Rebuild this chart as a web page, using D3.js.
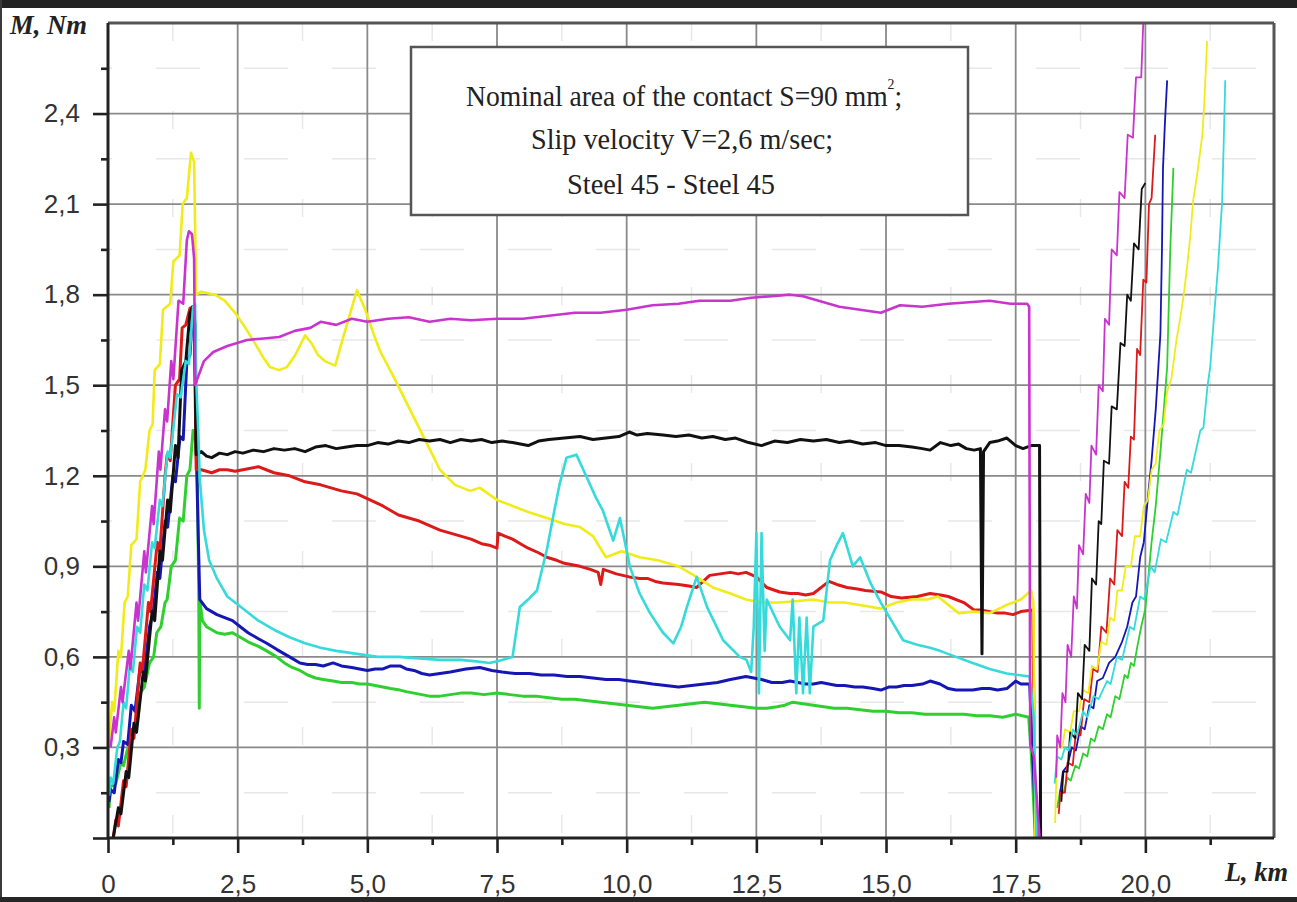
<!DOCTYPE html>
<html>
<head>
<meta charset="utf-8">
<script src="https://cdn.jsdelivr.net/npm/d3@7"></script>
<style>
body { margin: 0; background: #fff; }
svg { display: block; }
</style>
</head>
<body>
<div id="chart"></div>
<script>
// tick values (km and Nm)
var xMajor = [0, 2.5, 5, 7.5, 10, 12.5, 15, 17.5, 20];
var xMinor = [1.25, 3.75, 6.25, 8.75, 11.25, 13.75, 16.25, 18.75, 21.25];
var yMajor = [0, 0.3, 0.6, 0.9, 1.2, 1.5, 1.8, 2.1, 2.4];
var yMinor = [0.15, 0.45, 0.75, 1.05, 1.35, 1.65, 1.95, 2.25, 2.55];

var boxLines = ["Nominal area of the contact S=90 mm", "Slip velocity V=2,6 m/sec;", "Steel 45 - Steel 45"];

// each curve: [L km, M Nm]
// "run" = loading + steady part up to the stop, "rise" = second loading after 18 km
var magentaRun = [[0.05,0.30],[0.12,0.40],[0.15,0.35],[0.25,0.50],[0.28,0.45],[0.4,0.62],[0.43,0.56],[0.55,0.78],[0.58,0.72],[0.7,0.95],[0.73,0.88],[0.85,1.10],[0.88,1.04],[0.98,1.28],[1.01,1.22],[1.1,1.42],[1.14,1.38],[1.22,1.58],[1.26,1.52],[1.36,1.78],[1.45,1.77],[1.52,1.98],[1.56,2.01],[1.62,2.0],[1.66,1.92],[1.68,1.50],[1.72,1.52],[1.85,1.58],[2.03,1.61],[2.3,1.63],[2.68,1.65],[3.0,1.655],[3.3,1.66],[3.6,1.68],[3.9,1.69],[4.1,1.71],[4.4,1.70],[4.7,1.72],[5.0,1.71],[5.4,1.72],[5.8,1.725],[6.2,1.71],[6.6,1.72],[7.0,1.715],[7.5,1.72],[8.0,1.72],[8.5,1.73],[9.0,1.74],[9.5,1.74],[10.0,1.75],[10.5,1.765],[11.0,1.77],[11.4,1.78],[12.0,1.78],[12.4,1.79],[12.8,1.795],[13.15,1.80],[13.4,1.795],[13.7,1.78],[14.1,1.76],[14.5,1.75],[14.9,1.74],[15.27,1.765],[15.7,1.76],[16.2,1.77],[16.6,1.775],[17.0,1.78],[17.4,1.77],[17.72,1.77],[17.76,1.76],[17.78,0.31],[17.85,0.27],[17.92,0.10],[17.96,0.0]];
var magentaRise = [[18.28,0.20],[18.3,0.34],[18.36,0.30],[18.4,0.48],[18.46,0.45],[18.5,0.64],[18.57,0.60],[18.62,0.80],[18.68,0.76],[18.72,0.97],[18.8,0.94],[18.85,1.14],[18.92,1.11],[18.96,1.30],[19.05,1.27],[19.1,1.50],[19.18,1.48],[19.22,1.72],[19.3,1.70],[19.35,1.95],[19.45,1.93],[19.5,2.14],[19.6,2.12],[19.66,2.33],[19.76,2.32],[19.82,2.52],[19.92,2.52],[19.97,2.75]];

var yellowRun = [[0.0,0.28],[0.08,0.45],[0.12,0.42],[0.2,0.62],[0.25,0.60],[0.32,0.78],[0.38,0.80],[0.45,0.97],[0.55,0.99],[0.62,1.18],[0.72,1.22],[0.8,1.35],[0.86,1.37],[0.9,1.55],[1.0,1.57],[1.06,1.75],[1.2,1.77],[1.26,1.91],[1.38,1.93],[1.44,2.10],[1.52,2.12],[1.6,2.27],[1.66,2.24],[1.7,1.80],[1.8,1.81],[2.06,1.80],[2.25,1.78],[2.45,1.74],[2.65,1.69],[2.83,1.64],[3.0,1.59],[3.12,1.56],[3.3,1.55],[3.45,1.56],[3.61,1.60],[3.8,1.665],[3.92,1.64],[4.05,1.60],[4.18,1.58],[4.38,1.565],[4.57,1.68],[4.8,1.815],[4.96,1.75],[5.1,1.68],[5.24,1.615],[5.53,1.52],[5.82,1.42],[6.11,1.32],[6.4,1.22],[6.69,1.17],[6.98,1.15],[7.17,1.16],[7.5,1.12],[7.8,1.10],[8.1,1.08],[8.46,1.06],[8.8,1.04],[9.1,1.03],[9.35,1.0],[9.6,0.93],[9.9,0.95],[10.25,0.93],[10.6,0.92],[11.0,0.90],[11.3,0.87],[11.66,0.83],[12.0,0.81],[12.3,0.79],[12.6,0.78],[12.95,0.78],[13.3,0.785],[13.6,0.79],[13.9,0.78],[14.2,0.78],[14.55,0.77],[14.9,0.76],[15.2,0.78],[15.5,0.79],[15.8,0.79],[16.0,0.80],[16.4,0.745],[16.7,0.75],[17.0,0.745],[17.3,0.77],[17.6,0.79],[17.8,0.82],[17.84,0.78],[17.88,0.0]];
var yellowRise = [[18.26,0.05],[18.3,0.30],[18.4,0.30],[18.45,0.36],[18.55,0.35],[18.62,0.42],[18.72,0.42],[18.8,0.49],[18.9,0.48],[18.97,0.57],[19.07,0.56],[19.15,0.65],[19.25,0.64],[19.32,0.73],[19.4,0.72],[19.46,0.82],[19.55,0.82],[19.62,0.90],[19.72,0.90],[19.8,1.0],[19.9,1.0],[19.97,1.10],[20.05,1.12],[20.12,1.22],[20.2,1.24],[20.27,1.35],[20.35,1.37],[20.42,1.48],[20.5,1.52],[20.6,1.65],[20.67,1.72],[20.74,1.80],[20.81,1.90],[20.87,2.0],[20.92,2.11],[21.0,2.2],[21.1,2.33],[21.14,2.45],[21.19,2.64]];

var blackRun = [[0.1,0.0],[0.2,0.10],[0.25,0.08],[0.35,0.22],[0.4,0.20],[0.5,0.38],[0.55,0.35],[0.68,0.55],[0.72,0.52],[0.85,0.75],[0.9,0.72],[1.0,0.95],[1.05,0.92],[1.15,1.12],[1.2,1.08],[1.3,1.30],[1.35,1.26],[1.42,1.55],[1.5,1.58],[1.58,1.74],[1.63,1.76],[1.67,1.70],[1.7,1.27],[1.8,1.28],[1.9,1.265],[2.0,1.26],[2.15,1.275],[2.3,1.27],[2.45,1.28],[2.6,1.275],[2.8,1.285],[3.0,1.28],[3.2,1.29],[3.4,1.285],[3.6,1.29],[3.8,1.28],[4.0,1.295],[4.2,1.30],[4.4,1.29],[4.6,1.295],[4.8,1.30],[5.0,1.30],[5.2,1.31],[5.4,1.305],[5.6,1.315],[5.8,1.31],[6.0,1.32],[6.2,1.315],[6.4,1.32],[6.6,1.31],[6.8,1.32],[7.0,1.315],[7.2,1.32],[7.4,1.31],[7.6,1.315],[7.8,1.31],[8.1,1.30],[8.3,1.315],[8.5,1.32],[8.8,1.325],[9.1,1.33],[9.35,1.32],[9.6,1.325],[9.85,1.33],[10.05,1.345],[10.2,1.335],[10.4,1.34],[10.7,1.335],[10.95,1.33],[11.2,1.335],[11.45,1.325],[11.66,1.33],[11.9,1.32],[12.1,1.325],[12.35,1.31],[12.6,1.30],[12.85,1.315],[13.1,1.31],[13.35,1.32],[13.6,1.315],[13.85,1.32],[14.1,1.31],[14.3,1.315],[14.55,1.305],[14.8,1.31],[15.0,1.30],[15.25,1.30],[15.5,1.295],[15.7,1.29],[15.85,1.285],[16.05,1.31],[16.25,1.30],[16.4,1.305],[16.55,1.29],[16.7,1.285],[16.82,1.29],[16.85,0.61],[16.88,1.28],[17.0,1.31],[17.15,1.315],[17.33,1.325],[17.5,1.30],[17.64,1.29],[17.8,1.30],[17.96,1.30],[17.98,0.0]];
var blackRise = [[18.38,0.12],[18.42,0.22],[18.5,0.22],[18.55,0.35],[18.65,0.33],[18.7,0.48],[18.78,0.46],[18.83,0.64],[18.92,0.62],[18.97,0.86],[19.05,0.84],[19.1,1.05],[19.15,1.04],[19.2,1.25],[19.3,1.24],[19.35,1.43],[19.45,1.42],[19.52,1.64],[19.6,1.63],[19.65,1.80],[19.72,1.78],[19.78,1.97],[19.87,1.95],[19.93,2.15],[20.0,2.17]];

var redRun = [[0.1,0.0],[0.15,0.06],[0.2,0.04],[0.3,0.19],[0.35,0.17],[0.45,0.36],[0.5,0.33],[0.62,0.58],[0.66,0.55],[0.78,0.78],[0.82,0.75],[0.95,0.98],[1.0,0.95],[1.1,1.20],[1.14,1.27],[1.2,1.25],[1.3,1.50],[1.38,1.52],[1.43,1.69],[1.5,1.70],[1.58,1.755],[1.66,1.76],[1.7,1.22],[1.8,1.22],[1.9,1.215],[2.0,1.21],[2.15,1.22],[2.3,1.22],[2.45,1.215],[2.6,1.22],[2.75,1.225],[2.9,1.23],[3.05,1.22],[3.2,1.21],[3.35,1.205],[3.5,1.20],[3.65,1.19],[3.8,1.18],[3.95,1.175],[4.1,1.17],[4.3,1.16],[4.5,1.15],[4.65,1.145],[4.8,1.14],[5.05,1.12],[5.3,1.10],[5.45,1.085],[5.6,1.07],[5.8,1.06],[6.0,1.05],[6.2,1.035],[6.4,1.02],[6.6,1.01],[6.8,1.00],[7.0,0.99],[7.2,0.975],[7.35,0.97],[7.5,0.96],[7.52,1.01],[7.65,1.0],[7.8,0.99],[7.95,0.975],[8.1,0.96],[8.3,0.945],[8.46,0.93],[8.65,0.92],[8.8,0.91],[8.95,0.905],[9.1,0.90],[9.3,0.89],[9.45,0.88],[9.5,0.84],[9.55,0.89],[9.8,0.875],[10.05,0.865],[10.25,0.86],[10.4,0.86],[10.55,0.85],[10.7,0.845],[11.0,0.84],[11.2,0.835],[11.35,0.83],[11.6,0.87],[11.8,0.875],[12.0,0.88],[12.15,0.875],[12.3,0.88],[12.5,0.865],[12.7,0.83],[12.95,0.815],[13.15,0.81],[13.3,0.81],[13.45,0.805],[13.6,0.81],[13.9,0.85],[14.05,0.84],[14.25,0.83],[14.45,0.825],[14.6,0.82],[14.9,0.815],[15.1,0.80],[15.3,0.795],[15.6,0.80],[15.85,0.81],[16.05,0.805],[16.2,0.80],[16.5,0.78],[16.7,0.755],[16.85,0.755],[17.0,0.75],[17.15,0.745],[17.3,0.745],[17.45,0.74],[17.6,0.75],[17.83,0.755],[17.88,0.0]];
var redRise = [[18.33,0.08],[18.36,0.15],[18.45,0.15],[18.5,0.25],[18.6,0.24],[18.66,0.35],[18.75,0.34],[18.82,0.46],[18.92,0.45],[18.99,0.56],[19.08,0.55],[19.15,0.70],[19.25,0.68],[19.32,0.86],[19.4,0.84],[19.46,1.02],[19.55,1.0],[19.6,1.18],[19.67,1.16],[19.72,1.33],[19.78,1.32],[19.84,1.62],[19.9,1.60],[19.96,1.85],[20.02,1.84],[20.07,2.10],[20.12,2.12],[20.19,2.33]];

var cyanRun = [[0.02,0.14],[0.05,0.20],[0.1,0.18],[0.18,0.30],[0.23,0.32],[0.3,0.45],[0.35,0.43],[0.42,0.57],[0.48,0.55],[0.56,0.70],[0.62,0.68],[0.7,0.84],[0.76,0.82],[0.85,0.98],[0.9,0.96],[1.0,1.12],[1.05,1.10],[1.15,1.28],[1.2,1.26],[1.33,1.47],[1.4,1.46],[1.5,1.58],[1.56,1.57],[1.64,1.76],[1.68,1.77],[1.7,1.52],[1.74,1.35],[1.77,1.19],[1.85,1.02],[1.95,0.92],[2.1,0.86],[2.3,0.80],[2.6,0.76],[2.9,0.72],[3.2,0.69],[3.5,0.665],[3.8,0.645],[4.1,0.63],[4.4,0.62],[4.8,0.61],[5.2,0.60],[5.6,0.60],[6.0,0.595],[6.4,0.59],[6.8,0.59],[7.1,0.585],[7.36,0.58],[7.6,0.59],[7.8,0.60],[7.94,0.765],[8.1,0.79],[8.27,0.82],[8.46,0.955],[8.6,1.08],[8.71,1.175],[8.84,1.26],[9.03,1.27],[9.23,1.195],[9.4,1.13],[9.54,1.085],[9.74,0.985],[9.87,1.06],[10.06,0.90],[10.25,0.81],[10.45,0.745],[10.7,0.68],[10.9,0.645],[11.05,0.70],[11.16,0.765],[11.35,0.865],[11.55,0.765],[11.86,0.655],[12.18,0.60],[12.31,0.59],[12.4,0.55],[12.45,0.70],[12.5,1.01],[12.55,0.48],[12.6,1.01],[12.66,0.62],[12.7,0.79],[12.95,0.70],[13.15,0.655],[13.2,0.79],[13.27,0.48],[13.33,0.73],[13.4,0.48],[13.47,0.73],[13.53,0.48],[13.6,0.70],[13.79,0.72],[13.92,0.92],[14.05,0.97],[14.17,1.01],[14.36,0.90],[14.5,0.93],[14.7,0.845],[14.9,0.78],[15.07,0.73],[15.33,0.655],[15.6,0.64],[15.85,0.63],[16.04,0.62],[16.35,0.60],[16.67,0.58],[17.0,0.56],[17.33,0.545],[17.55,0.54],[17.77,0.535],[17.85,0.40],[17.9,0.0]];
var cyanRise = [[18.25,0.18],[18.3,0.27],[18.38,0.26],[18.45,0.30],[18.52,0.29],[18.6,0.36],[18.68,0.34],[18.8,0.42],[18.88,0.40],[19.0,0.47],[19.1,0.46],[19.26,0.52],[19.33,0.51],[19.45,0.60],[19.55,0.59],[19.7,0.70],[19.78,0.69],[19.9,0.80],[19.98,0.79],[20.1,0.90],[20.18,0.88],[20.3,0.99],[20.4,0.98],[20.54,1.08],[20.62,1.07],[20.8,1.22],[20.88,1.21],[21.06,1.35],[21.12,1.36],[21.2,1.50],[21.25,1.56],[21.32,1.72],[21.4,1.89],[21.48,2.11],[21.51,2.30],[21.54,2.51]];

var blueRun = [[0.02,0.12],[0.05,0.16],[0.12,0.15],[0.2,0.26],[0.25,0.25],[0.3,0.32],[0.38,0.31],[0.45,0.44],[0.52,0.42],[0.62,0.565],[0.7,0.55],[0.8,0.70],[0.87,0.745],[0.95,0.88],[1.0,0.86],[1.1,1.05],[1.15,1.03],[1.25,1.20],[1.3,1.18],[1.39,1.33],[1.45,1.32],[1.52,1.58],[1.58,1.60],[1.64,1.76],[1.68,1.70],[1.7,1.30],[1.74,1.0],[1.77,0.79],[1.9,0.76],[2.1,0.74],[2.25,0.73],[2.4,0.72],[2.55,0.70],[2.7,0.68],[2.9,0.66],[3.06,0.645],[3.25,0.625],[3.4,0.61],[3.55,0.595],[3.7,0.58],[3.85,0.575],[4.0,0.575],[4.15,0.57],[4.34,0.58],[4.5,0.57],[4.7,0.565],[4.85,0.56],[5.0,0.555],[5.15,0.56],[5.3,0.56],[5.45,0.57],[5.63,0.57],[5.75,0.56],[5.9,0.555],[6.05,0.545],[6.2,0.54],[6.4,0.545],[6.6,0.55],[6.75,0.555],[6.9,0.56],[7.17,0.565],[7.4,0.555],[7.6,0.55],[7.85,0.545],[8.13,0.545],[8.35,0.54],[8.6,0.54],[8.85,0.535],[9.1,0.535],[9.35,0.53],[9.6,0.525],[9.85,0.525],[10.06,0.52],[10.3,0.515],[10.5,0.51],[10.75,0.505],[11.0,0.50],[11.25,0.505],[11.5,0.51],[11.75,0.515],[12.0,0.525],[12.15,0.53],[12.3,0.535],[12.45,0.53],[12.6,0.525],[12.8,0.515],[13.0,0.515],[13.15,0.52],[13.3,0.515],[13.45,0.51],[13.6,0.51],[13.75,0.515],[13.9,0.51],[14.05,0.505],[14.2,0.505],[14.4,0.50],[14.55,0.50],[14.75,0.495],[14.9,0.49],[15.05,0.50],[15.2,0.50],[15.35,0.505],[15.5,0.505],[15.7,0.51],[15.85,0.52],[16.04,0.51],[16.2,0.495],[16.35,0.49],[16.5,0.49],[16.67,0.49],[16.85,0.495],[17.0,0.495],[17.15,0.49],[17.33,0.495],[17.5,0.52],[17.6,0.51],[17.77,0.51],[17.82,0.30],[17.9,0.0]];
var blueRise = [[18.35,0.14],[18.41,0.22],[18.5,0.24],[18.58,0.30],[18.66,0.29],[18.75,0.37],[18.83,0.36],[18.92,0.44],[19.0,0.43],[19.07,0.52],[19.18,0.53],[19.3,0.58],[19.42,0.60],[19.55,0.65],[19.65,0.70],[19.75,0.78],[19.82,0.80],[19.9,0.93],[19.97,0.98],[20.05,1.13],[20.12,1.25],[20.2,1.42],[20.29,1.67],[20.32,1.95],[20.34,2.22],[20.38,2.38],[20.42,2.51]];

var greenRun = [[0.02,0.10],[0.05,0.17],[0.15,0.18],[0.25,0.25],[0.3,0.24],[0.37,0.29],[0.45,0.33],[0.52,0.38],[0.58,0.40],[0.62,0.48],[0.7,0.50],[0.8,0.58],[0.88,0.60],[0.94,0.68],[1.02,0.70],[1.1,0.78],[1.14,0.79],[1.22,0.90],[1.3,0.92],[1.38,1.06],[1.45,1.05],[1.52,1.20],[1.58,1.22],[1.64,1.35],[1.68,1.33],[1.72,1.25],[1.75,0.80],[1.76,0.43],[1.77,0.79],[1.82,0.72],[1.9,0.70],[2.0,0.69],[2.1,0.68],[2.25,0.675],[2.4,0.68],[2.55,0.665],[2.7,0.65],[2.9,0.635],[3.06,0.62],[3.25,0.60],[3.4,0.58],[3.55,0.565],[3.7,0.555],[3.85,0.54],[4.0,0.53],[4.15,0.525],[4.34,0.52],[4.5,0.515],[4.7,0.515],[4.85,0.51],[5.0,0.51],[5.15,0.505],[5.3,0.50],[5.45,0.495],[5.63,0.49],[5.75,0.485],[5.9,0.48],[6.05,0.475],[6.2,0.47],[6.4,0.47],[6.6,0.475],[6.8,0.48],[7.0,0.48],[7.25,0.475],[7.5,0.48],[7.75,0.475],[8.0,0.47],[8.25,0.47],[8.5,0.465],[8.75,0.46],[9.0,0.46],[9.25,0.455],[9.5,0.45],[9.75,0.445],[10.0,0.44],[10.25,0.435],[10.5,0.43],[10.75,0.435],[11.0,0.44],[11.25,0.445],[11.5,0.45],[11.75,0.445],[12.0,0.44],[12.25,0.435],[12.5,0.43],[12.7,0.43],[12.9,0.435],[13.05,0.44],[13.2,0.45],[13.4,0.445],[13.6,0.44],[13.8,0.435],[14.0,0.43],[14.25,0.43],[14.5,0.425],[14.75,0.42],[15.0,0.42],[15.25,0.415],[15.5,0.415],[15.75,0.41],[16.0,0.41],[16.25,0.41],[16.5,0.41],[16.75,0.405],[17.0,0.405],[17.25,0.40],[17.5,0.41],[17.75,0.40],[17.8,0.28],[17.88,0.0]];
var greenRise = [[18.3,0.10],[18.36,0.16],[18.42,0.15],[18.5,0.20],[18.56,0.19],[18.65,0.24],[18.72,0.23],[18.8,0.28],[18.88,0.27],[18.95,0.33],[19.02,0.32],[19.1,0.37],[19.18,0.36],[19.26,0.41],[19.33,0.40],[19.42,0.47],[19.5,0.46],[19.6,0.54],[19.66,0.53],[19.72,0.58],[19.78,0.57],[19.84,0.63],[19.92,0.70],[20.0,0.76],[20.05,0.85],[20.12,0.98],[20.2,1.10],[20.3,1.30],[20.42,1.56],[20.48,1.95],[20.54,2.22]];

var W = 1297, H = 902;
var plotL = 108, plotR = 1274, plotT = 23, plotB = 838;

var svg = d3.select("#chart").append("svg").attr("width", W).attr("height", H);

// scanned-photo dark border
svg.append("rect").attr("x", 0).attr("y", 0).attr("width", W).attr("height", 8).attr("fill", "#232323");
svg.append("rect").attr("x", 0).attr("y", 0).attr("width", 2).attr("height", H).attr("fill", "#3a3a3a");
svg.append("rect").attr("x", 0).attr("y", 897).attr("width", W).attr("height", 5).attr("fill", "#262626");

var x = d3.scaleLinear().domain([0, 22.48]).range([plotL, plotR]);
var y = d3.scaleLinear().domain([0, 2.7]).range([plotB, plotT]);

// faint minor grid
var grid = svg.append("g");
grid.selectAll(".mv").data(xMinor).enter().append("line")
    .attr("x1", function (d) { return x(d); }).attr("x2", function (d) { return x(d); })
    .attr("y1", plotT).attr("y2", plotB)
    .attr("stroke", "#e8e8e8").attr("stroke-width", 1.5).attr("stroke-dasharray", "18,70");
grid.selectAll(".mh").data(yMinor).enter().append("line")
    .attr("x1", plotL).attr("x2", plotR)
    .attr("y1", function (d) { return y(d); }).attr("y2", function (d) { return y(d); })
    .attr("stroke", "#e8e8e8").attr("stroke-width", 1.5).attr("stroke-dasharray", "44,44").attr("stroke-dashoffset", -48);

// major grid
grid.selectAll(".gv").data(xMajor.slice(1)).enter().append("line")
    .attr("x1", function (d) { return x(d); }).attr("x2", function (d) { return x(d); })
    .attr("y1", plotT).attr("y2", plotB)
    .attr("stroke", "#8a8a8a").attr("stroke-width", 1.8);
grid.selectAll(".gh").data(yMajor.slice(1)).enter().append("line")
    .attr("x1", plotL).attr("x2", plotR)
    .attr("y1", function (d) { return y(d); }).attr("y2", function (d) { return y(d); })
    .attr("stroke", "#8a8a8a").attr("stroke-width", 1.8);

// text box
var box = svg.append("g");
box.append("rect").attr("x", 411).attr("y", 47).attr("width", 557).attr("height", 168)
    .attr("fill", "#fff").attr("stroke", "#555").attr("stroke-width", 2.5);
var serif = "'Liberation Serif', 'Times New Roman', serif";
// first line: one text with a superscript tspan, squeezed like the scan
var first = box.append("text").attr("transform", "translate(466,106) scale(0.92,1)")
    .style("font-family", serif).style("font-size", "30px").attr("fill", "#222");
first.append("tspan").text(boxLines[0]);
first.append("tspan").text("2").attr("dy", -17).style("font-size", "15px");
first.append("tspan").text(";").attr("dy", 17);
box.append("text").text(boxLines[1]).attr("x", 531).attr("y", 149)
    .attr("textLength", 302).attr("lengthAdjust", "spacingAndGlyphs")
    .style("font-family", serif).style("font-size", "30px").attr("fill", "#222");
box.append("text").text(boxLines[2]).attr("x", 567).attr("y", 194)
    .attr("textLength", 208).attr("lengthAdjust", "spacingAndGlyphs")
    .style("font-family", serif).style("font-size", "30px").attr("fill", "#222");

// curves
svg.append("clipPath").attr("id", "plotClip").append("rect")
    .attr("x", plotL).attr("y", plotT).attr("width", plotR - plotL).attr("height", plotB - plotT);

var line = d3.line().x(function (d) { return x(d[0]); }).y(function (d) { return y(d[1]); });

var series = [
    { run: greenRun, rise: greenRise, color: "#2fcf2f", w: 3 },
    { run: blueRun, rise: blueRise, color: "#1616b4", w: 3 },
    { run: redRun, rise: redRise, color: "#dd1a1a", w: 3 },
    { run: yellowRun, rise: yellowRise, color: "#f0ec1a", w: 2.6 },
    { run: blackRun, rise: blackRise, color: "#111111", w: 3 },
    { run: cyanRun, rise: cyanRise, color: "#36dada", w: 2.6 },
    { run: magentaRun, rise: magentaRise, color: "#c934cf", w: 2.6 }
];

var curves = svg.append("g").attr("clip-path", "url(#plotClip)");
series.forEach(function (s) {
    curves.append("path").attr("d", line(s.run)).attr("fill", "none")
        .attr("stroke", s.color).attr("stroke-width", s.w).attr("stroke-linejoin", "round");
    curves.append("path").attr("d", line(s.rise)).attr("fill", "none")
        .attr("stroke", s.color).attr("stroke-width", 1.8).attr("stroke-linejoin", "round");
});

// frame
svg.append("line").attr("x1", plotL).attr("x2", plotR).attr("y1", plotT).attr("y2", plotT).attr("stroke", "#555").attr("stroke-width", 3);
svg.append("line").attr("x1", plotR).attr("x2", plotR).attr("y1", plotT).attr("y2", plotB).attr("stroke", "#555").attr("stroke-width", 3);
svg.append("line").attr("x1", plotL).attr("x2", plotL).attr("y1", plotT).attr("y2", plotB).attr("stroke", "#222").attr("stroke-width", 3);
svg.append("line").attr("x1", plotL).attr("x2", plotR).attr("y1", plotB).attr("y2", plotB).attr("stroke", "#222").attr("stroke-width", 3);

// axes
var comma = function (d) { return d === 0 ? "0" : d.toFixed(1).replace(".", ","); };
var sans = "'Liberation Sans', Arial, sans-serif";

var xAxis = svg.append("g").attr("transform", "translate(0," + plotB + ")")
    .call(d3.axisBottom(x).tickValues(xMajor).tickFormat(comma).tickSize(15).tickPadding(22));
var xMinAxis = svg.append("g").attr("transform", "translate(0," + plotB + ")")
    .call(d3.axisBottom(x).tickValues(xMinor).tickFormat("").tickSize(7));
var yAxis = svg.append("g").attr("transform", "translate(" + plotL + ",0)")
    .call(d3.axisLeft(y).tickValues(yMajor).tickFormat(function (d) { return d === 0 ? "" : comma(d); }).tickSize(15).tickPadding(13));
var yMinAxis = svg.append("g").attr("transform", "translate(" + plotL + ",0)")
    .call(d3.axisLeft(y).tickValues(yMinor).tickFormat("").tickSize(7));

[xAxis, xMinAxis, yAxis, yMinAxis].forEach(function (g) {
    g.select(".domain").remove();
    g.selectAll(".tick line").attr("stroke", "#222").attr("stroke-width", 2.6);
    g.selectAll(".tick text").attr("fill", "#333").style("font-family", sans).style("font-size", "26px");
});

// axis titles
svg.append("text").text("M, Nm").attr("x", 10).attr("y", 34)
    .attr("textLength", 77).attr("lengthAdjust", "spacingAndGlyphs")
    .style("font-family", serif).style("font-size", "27px").style("font-weight", "bold").style("font-style", "italic").attr("fill", "#222");
svg.append("text").text("L, km").attr("x", 1225).attr("y", 881)
    .attr("textLength", 63).attr("lengthAdjust", "spacingAndGlyphs")
    .style("font-family", serif).style("font-size", "27px").style("font-weight", "bold").style("font-style", "italic").attr("fill", "#222");
</script>
</body>
</html>
